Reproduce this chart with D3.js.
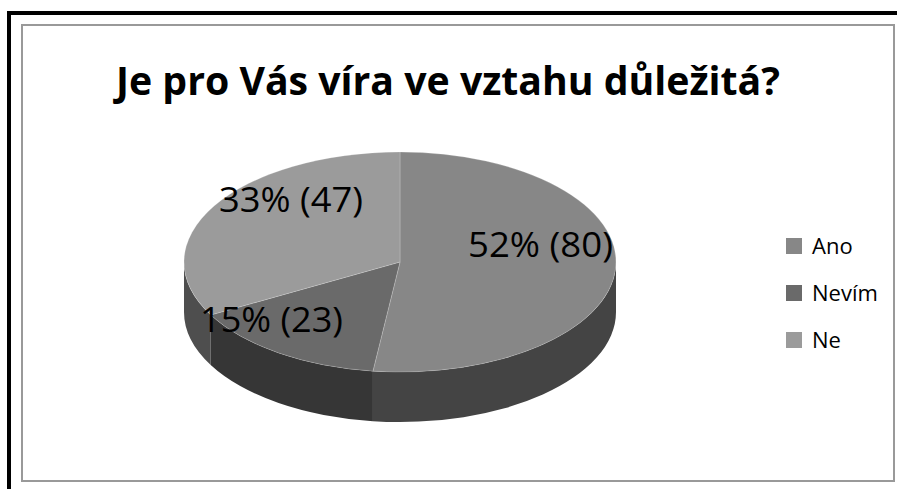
<!DOCTYPE html>
<html>
<head>
<meta charset="utf-8">
<script src="https://cdn.jsdelivr.net/npm/d3@7"></script>
<style>
  body { margin: 0; background: #fff; }
  svg { display: block; }
</style>
</head>
<body>
<svg id="chart"></svg>
<script>
// data
const title = "Je pro Vás víra ve vztahu důležitá?"
const categories = ["Ano", "Nevím", "Ne"]
const percents = [52, 15, 33]
const counts = [80, 23, 47]

const W = 897, H = 489
const topColors = ["#878787", "#6a6a6a", "#9b9b9b"]
const sideColors = ["#444444", "#363636", "#4e4e4e"]

const svg = d3.select('#chart').attr('width', W).attr('height', H)

// frames
svg.append('rect')
  .attr('x', 9).attr('y', 13).attr('width', 1000).attr('height', 1000)
  .attr('fill', 'none').attr('stroke', '#000').attr('stroke-width', 4)
svg.append('rect')
  .attr('x', 22).attr('y', 25).attr('width', 872).attr('height', 456)
  .attr('fill', '#fff').attr('stroke', '#999').attr('stroke-width', 2)

svg.append('text')
  .attr('x', 116).attr('y', 95)
  .attr('textLength', 664).attr('lengthAdjust', 'spacingAndGlyphs')
  .style('font-family', '"Open Sans", Lato, sans-serif')
  .style('font-weight', 'bold').style('font-size', '39px')
  .text(title)

// 3d pie
const cx = 400, cy = 262, rx = 216, ry = 110, depth = 50

const pie = d3.pie().sort(null).value(d => d)
const arcs = pie(percents)

const pt = (a, dy = 0) => [cx + rx * Math.sin(a), cy - ry * Math.cos(a) + dy]

function topPath(a0, a1) {
  const p0 = pt(a0), p1 = pt(a1)
  const large = (a1 - a0) > Math.PI ? 1 : 0
  return `M${cx},${cy}L${p0}A${rx},${ry} 0 ${large} 1 ${p1}Z`
}

function sidePath(a0, a1) {
  const s = Math.max(a0, Math.PI / 2), e = Math.min(a1, 3 * Math.PI / 2)
  if (e <= s) return null
  const p0 = pt(s), p1 = pt(e), q1 = pt(e, depth), q0 = pt(s, depth)
  return `M${p0}A${rx},${ry} 0 0 1 ${p1}L${q1}A${rx},${ry} 0 0 0 ${q0}Z`
}

const g = svg.append('g')

arcs.forEach((d, i) => {
  const p = sidePath(d.startAngle, d.endAngle)
  if (p) g.append('path').attr('d', p).attr('fill', sideColors[i])
})

g.selectAll('path.top')
  .data(arcs)
  .enter()
  .append('path')
  .attr('class', 'top')
  .attr('d', d => topPath(d.startAngle, d.endAngle))
  .attr('fill', (d, i) => topColors[i])
  .attr('stroke', 'rgba(255,255,255,0.25)')
  .attr('stroke-width', 0.8)

// data labels
const labelPos = [[468, 257, 145], [200, 332, 143], [219, 212, 144]]
arcs.forEach((d, i) => {
  g.append('text')
    .attr('x', labelPos[i][0]).attr('y', labelPos[i][1])
    .attr('textLength', labelPos[i][2]).attr('lengthAdjust', 'spacingAndGlyphs')
    .style('font-family', '"Open Sans", sans-serif')
    .style('font-size', '35px')
    .attr('fill', '#000')
    .text(`${percents[i]}% (${counts[i]})`)
})

// legend
const legend = svg.append('g').attr('transform', 'translate(786, 238)')
categories.forEach((c, i) => {
  const row = legend.append('g').attr('transform', `translate(0, ${i * 47})`)
  row.append('rect').attr('width', 16).attr('height', 16).attr('fill', topColors[i])
  row.append('text')
    .attr('x', 26).attr('y', 16)
    .style('font-family', '"Open Sans", sans-serif')
    .style('font-size', '22px')
    .text(c)
})
</script>
</body>
</html>
